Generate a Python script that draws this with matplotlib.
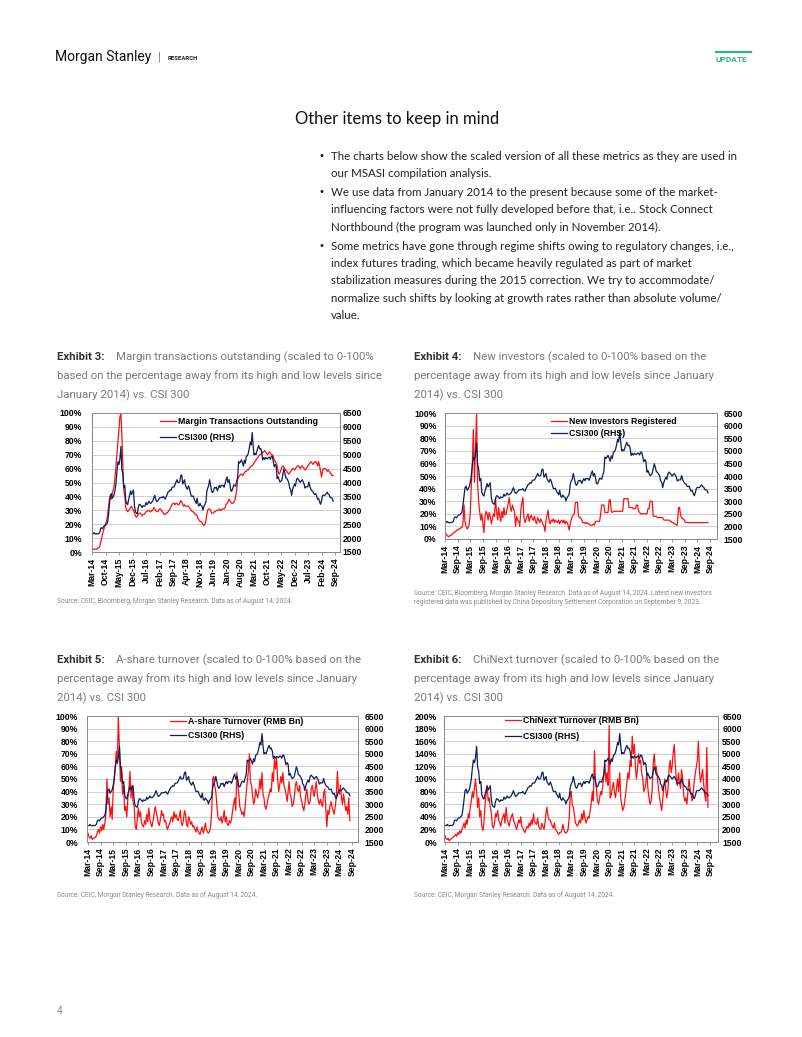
import numpy as np
import pandas as pd
import matplotlib
matplotlib.use("Agg")
import matplotlib.pyplot as plt
import matplotlib.dates as mdates
from matplotlib.lines import Line2D
from matplotlib.ticker import FuncFormatter

# --- Data: two readings per month (1st / 15th), Mar-2014 .. Aug-2024 ---
START = "2014-03-01"

CSI300 = [
    2150, 2146, 2200, 2158, 2140, 2160, 2150, 2165, 2200, 2352, 2370, 2338, 2420, 2450, 2460, 2508, 2560, 2808, 3200, 3533,
    3600, 3434, 3500, 3572, 3750, 3978, 4450, 4750, 4650, 4841, 5300, 4473, 4300, 3816, 3900, 3366, 3250, 3203, 3400, 3534, 3700, 3566, 3650, 3731,
    3150, 2946, 2900, 2877, 3100, 3218, 3200, 3156, 3100, 3169, 3150, 3154, 3280, 3203, 3250, 3327, 3260, 3253, 3300, 3336, 3450, 3538, 3400, 3310,
    3330, 3387, 3450, 3452, 3460, 3456, 3500, 3439, 3400, 3492, 3580, 3666, 3680, 3737, 3720, 3822, 3840, 3837, 3920, 4006, 4100, 4006, 4000, 4030,
    4250, 4275, 3950, 4023, 4100, 3898, 3800, 3756, 3880, 3802, 3650, 3510, 3500, 3517, 3400, 3335, 3250, 3438, 3200, 3153, 3250, 3173, 3150, 3010,
    3150, 3201, 3300, 3669, 3800, 3872, 4100, 3913, 3700, 3630, 3700, 3825, 3800, 3835, 3700, 3799, 3900, 3814, 3900, 3886, 3900, 3828, 3950, 4096,
    4200, 4003, 4100, 3940, 3700, 3686, 3800, 3912, 3900, 3867, 4050, 4163, 4750, 4695, 4750, 4817, 4700, 4587, 4800, 4695, 4950, 4960, 5050, 5211,
    5450, 5351, 5800, 5336, 5000, 5048, 5000, 5123, 5250, 5331, 5200, 5224, 5100, 4811, 4900, 4827, 4900, 4866, 4850, 4908, 4900, 4832, 4950, 4940,
    4750, 4564, 4650, 4581, 4150, 4222, 4100, 4016, 4050, 4091, 4300, 4485, 4350, 4170, 4150, 4079, 4000, 3804, 3750, 3539, 3750, 3854, 3950, 3872,
    4100, 4157, 4100, 4061, 4000, 4051, 4100, 4029, 3950, 3798, 3850, 3842, 3850, 4020, 3850, 3765, 3700, 3690, 3600, 3573, 3600, 3496, 3400, 3431,
    3300, 3215, 3350, 3516, 3550, 3537, 3550, 3604, 3650, 3579, 3550, 3462, 3450, 3442, 3330,
]

margin = [
    2, 2, 2, 2, 2, 2, 3, 3, 4, 7, 10, 13, 16, 18, 20, 22, 26, 32, 38, 40,
    38, 42, 45, 48, 55, 62, 72, 80, 88, 97, 100, 85, 62, 45, 40, 32, 30, 29, 30, 31, 32, 33, 31, 30,
    28, 26, 25, 26, 27, 28, 28, 27, 26, 27, 27, 28, 29, 29, 30, 30, 29, 29, 30, 30, 32, 31, 30, 29,
    29, 30, 31, 31, 30, 29, 28, 27, 27, 28, 28, 29, 30, 31, 33, 34, 35, 35, 34, 35, 35, 34, 34, 35,
    37, 36, 34, 33, 34, 33, 33, 33, 33, 32, 31, 30, 29, 29, 28, 27, 27, 26, 24, 23, 22, 22, 21, 20,
    19, 20, 22, 27, 30, 31, 31, 30, 28, 28, 28, 29, 29, 30, 30, 30, 31, 30, 30, 31, 31, 31, 32, 34,
    35, 36, 38, 37, 36, 35, 35, 36, 37, 40, 45, 52, 54, 55, 56, 56, 55, 56, 57, 58, 58, 59, 59, 60,
    61, 62, 62, 63, 64, 65, 66, 67, 68, 69, 70, 70, 71, 72, 72, 73, 72, 71, 70, 71, 72, 71, 70, 70,
    69, 66, 65, 64, 62, 58, 56, 57, 59, 61, 62, 61, 60, 59, 58, 57, 56, 57, 58, 59, 60, 60, 59, 60,
    61, 62, 62, 61, 60, 61, 62, 61, 60, 59, 60, 61, 62, 63, 64, 65, 64, 63, 64, 65, 65, 64, 62, 65,
    62, 58, 54, 58, 60, 60, 60, 59, 58, 59, 58, 57, 56, 55, 55,
]

new_investors = [
    6, 4, 3, 2, 2, 3, 3, 4, 5, 5, 6, 7, 7, 8, 8, 9, 9, 12, 27, 14,
    10, 8, 9, 12, 20, 40, 60, 87, 45, 70, 100, 45, 30, 22, 15, 20, 12, 5, 18, 22, 20, 15, 21, 18,
    12, 16, 20, 18, 32, 22, 15, 25, 18, 14, 22, 17, 25, 19, 20, 24, 28, 33, 25, 22, 27, 24, 22, 10,
    18, 15, 14, 10, 22, 28, 33, 18, 13, 15, 18, 20, 14, 17, 19, 16, 15, 18, 14, 12, 17, 15, 13, 16,
    14, 12, 10, 6, 15, 18, 23, 14, 12, 15, 14, 16, 13, 15, 14, 13, 15, 12, 14, 15, 13, 15, 12, 14,
    13, 11, 7, 12, 15, 18, 19, 20, 29, 29, 29, 18, 17, 17, 15, 13, 13, 13, 12, 13, 12, 12, 11, 11,
    11, 12, 11, 14, 14, 14, 14, 14, 20, 27, 27, 27, 21, 21, 21, 21, 31, 31, 22, 21, 22, 22, 22, 22,
    22, 22, 22, 22, 22, 22, 32, 32, 32, 32, 32, 25, 25, 25, 25, 24, 24, 24, 27, 27, 22, 21, 20, 20,
    20, 20, 20, 20, 20, 24, 24, 30, 30, 30, 18, 18, 18, 18, 17, 17, 17, 17, 17, 17, 15, 15, 15, 15,
    15, 15, 14, 14, 13, 13, 12, 12, 11, 11, 25, 25, 19, 17, 16, 16, 14, 13, 13, 13, 13, 13, 13, 13,
    13, 13, 13, 13, 13, 13, 13, 13, 13, 13, 13, 13, 13, 13, 13,
]

ashare_turnover = [
    7, 4, 3, 5, 2, 3, 3, 4, 5, 8, 10, 7, 12, 9, 14, 10, 15, 22, 50, 30,
    35, 20, 28, 18, 40, 50, 60, 72, 62, 100, 70, 48, 60, 38, 45, 25, 28, 20, 35, 42, 56, 35, 45, 32,
    28, 12, 10, 18, 27, 20, 24, 15, 13, 12, 17, 14, 22, 16, 27, 18, 14, 12, 17, 22, 28, 24, 20, 15,
    13, 18, 25, 21, 22, 16, 17, 12, 10, 13, 15, 18, 20, 16, 24, 19, 22, 18, 17, 20, 25, 15, 13, 17,
    25, 22, 14, 12, 20, 18, 14, 16, 12, 13, 10, 8, 12, 9, 7, 6, 10, 12, 7, 10, 15, 10, 8, 7,
    9, 12, 25, 50, 52, 45, 40, 30, 20, 18, 17, 20, 15, 18, 25, 16, 20, 14, 13, 17, 15, 18, 25, 30,
    35, 25, 55, 45, 38, 28, 25, 22, 24, 20, 28, 38, 48, 55, 70, 48, 45, 38, 30, 32, 42, 38, 35, 40,
    50, 42, 55, 38, 35, 28, 26, 30, 35, 38, 42, 40, 55, 48, 66, 58, 67, 50, 40, 45, 52, 47, 55, 45,
    42, 38, 32, 40, 48, 38, 35, 28, 30, 35, 45, 48, 42, 40, 45, 36, 32, 28, 25, 30, 38, 42, 33, 30,
    32, 42, 45, 40, 36, 42, 48, 38, 33, 30, 34, 30, 28, 38, 42, 28, 12, 25, 22, 28, 32, 28, 25, 22,
    28, 35, 56, 42, 38, 45, 35, 30, 38, 32, 25, 28, 22, 35, 17,
]

chinext_turnover = [
    10, 5, 4, 6, 2, 4, 5, 6, 8, 10, 12, 9, 15, 12, 18, 14, 20, 25, 30, 22,
    35, 28, 45, 38, 55, 65, 80, 70, 85, 100, 80, 55, 70, 40, 50, 25, 18, 30, 60, 75, 90, 65, 70, 55,
    45, 25, 22, 30, 45, 40, 50, 35, 30, 25, 35, 40, 45, 30, 55, 38, 30, 25, 35, 40, 45, 35, 30, 25,
    20, 28, 35, 30, 40, 25, 22, 18, 15, 20, 25, 22, 30, 25, 35, 28, 45, 32, 30, 28, 38, 25, 22, 20,
    30, 25, 20, 30, 45, 55, 40, 35, 35, 30, 25, 22, 30, 20, 18, 15, 12, 15, 15, 18, 28, 20, 15, 14,
    16, 20, 40, 75, 80, 60, 55, 45, 30, 28, 25, 30, 35, 30, 45, 35, 50, 38, 30, 35, 40, 38, 50, 60,
    80, 65, 145, 95, 85, 65, 60, 70, 80, 75, 90, 105, 125, 95, 110, 90, 185, 70, 75, 85, 95, 80, 70, 85,
    100, 80, 110, 70, 60, 50, 55, 65, 80, 95, 110, 100, 130, 120, 168, 140, 155, 120, 100, 115, 140, 125, 130, 110,
    100, 80, 85, 95, 110, 85, 70, 60, 65, 80, 125, 140, 115, 120, 100, 85, 70, 60, 50, 65, 90, 100, 80, 70,
    85, 115, 130, 110, 120, 140, 155, 125, 100, 90, 110, 95, 85, 115, 100, 75, 65, 70, 60, 80, 100, 85, 75, 65,
    80, 95, 110, 120, 130, 160, 110, 95, 105, 115, 90, 75, 65, 150, 55,
]

bullets = [
    ["The charts below show the scaled version of all these metrics as they are used in",
     "our MSASI compilation analysis."],
    ["We use data from January 2014 to the present because some of the market-",
     "influencing factors were not fully developed before that, i.e.. Stock Connect",
     "Northbound (the program was launched only in November 2014)."],
    ["Some metrics have gone through regime shifts owing to regulatory changes, i.e.,",
     "index futures trading, which became heavily regulated as part of market",
     "stabilization measures during the 2015 correction. We try to accommodate/",
     "normalize such shifts by looking at growth rates rather than absolute volume/",
     "value."],
]

# --- page ---
W, H = 802, 1037
fig = plt.figure(figsize=(W / 100, H / 100), dpi=100)
fig.patch.set_facecolor("white")

RED = "#ff1010"
NAVY = "#0f1d5a"
GRID = "#c9c9c9"
EDGE = "#8a8a8a"
TICKFONT = dict(family="Liberation Sans", weight="bold", size=6.2)


def ptext(x, y, s, **kw):
    kw.setdefault("va", "center")
    fig.text(x / W, 1 - y / H, s, **kw)


def px_axes(x0, y0, x1, y1):
    return fig.add_axes([x0 / W, 1 - y1 / H, (x1 - x0) / W, (y1 - y0) / H])


def month_date(m):
    return pd.Timestamp(START) + pd.Timedelta(days=m * 30.44)


def chart(box, series, label, ytop, ystep, step, xl, leg, lpad, rpad):
    ax = px_axes(*box)
    d = pd.date_range(START, periods=len(series), freq="SMS")
    ax.plot(d, np.array(series) / 100.0, color=RED, lw=0.9, label=label)
    ax2 = ax.twinx()
    dc = pd.date_range(START, periods=len(CSI300), freq="SMS")
    ax2.plot(dc, CSI300, color=NAVY, lw=0.9, label="CSI300 (RHS)")

    ax.set_ylim(0, ytop)
    ax.set_yticks(np.arange(0, ytop + 1e-9, ystep))
    ax.yaxis.set_major_formatter(FuncFormatter(lambda v, p: f"{v * 100:.0f}%"))
    ax2.set_ylim(1500, 6500)
    ax2.set_yticks(range(1500, 6501, 500))

    ticks = pd.date_range(START, "2024-09-01", freq=f"{step}MS")
    ax.set_xticks(ticks)
    ax.xaxis.set_major_formatter(mdates.DateFormatter("%b-%y"))
    ax.set_xlim(month_date(xl[0]), month_date(xl[1]))

    ax.yaxis.grid(True, color=GRID, lw=0.6)
    ax.set_axisbelow(True)
    ax.tick_params(axis="x", rotation=90, length=2.5, width=0.6, color=EDGE, pad=1.5)
    ax.tick_params(axis="y", length=0, pad=lpad)
    ax2.tick_params(axis="y", length=0, pad=rpad)
    for a in (ax, ax2):
        for s in a.spines.values():
            s.set_color(EDGE)
            s.set_linewidth(0.7)
        for t in a.get_xticklabels() + a.get_yticklabels():
            t.set_fontproperties(TICKFONT)
            t.set_color("black")

    hs = ax.get_lines() + ax2.get_lines()
    ax2.legend(hs, [h.get_label() for h in hs], loc="upper left",
               bbox_to_anchor=(leg[0] / W, 1 - leg[1] / H), bbox_transform=fig.transFigure,
               frameon=False, prop=dict(family="Liberation Sans", weight="bold", size=6.3),
               handlelength=1.8, handletextpad=0.3, labelspacing=leg[2],
               borderpad=0, borderaxespad=0)
    return ax


# header
ptext(55, 57, "Morgan Stanley", family="Roboto", size=10, color="#111111")
ptext(158, 57, "|", family="DejaVu Sans", size=7, color="#666666")
ptext(168, 58, "RESEARCH", family="Roboto", weight="bold", size=4.3, color="#222222")
fig.add_artist(Line2D([716 / W, 751 / W], [1 - 52 / H, 1 - 52 / H], color="#33b27f", lw=1.6))
ptext(716, 59, "UPDATE", family="Roboto", weight="bold", size=6, color="#33b27f")

ptext(295, 119, "Other items to keep in mind", family="Lato", size=12, color="#111111")

y = 156
for para in bullets:
    ptext(319, y, "\u2022", family="DejaVu Sans", size=7.5, color="#222222")
    for line in para:
        ptext(331, y, line, family="Lato", size=8.3, color="#222222")
        y += 17.4
    y += 1.5

# exhibit titles
titles = [
    (57, 357, "Exhibit 3:", "Margin transactions outstanding (scaled to 0-100%",
     ["based on the percentage away from its high and low levels since", "January 2014) vs. CSI 300"]),
    (414, 357, "Exhibit 4:", "New investors (scaled to 0-100% based on the",
     ["percentage away from its high and low levels since January", "2014) vs. CSI 300"]),
    (57, 660, "Exhibit 5:", "A-share turnover (scaled to 0-100% based on the",
     ["percentage away from its high and low levels since January", "2014) vs. CSI 300"]),
    (414, 660, "Exhibit 6:", "ChiNext turnover (scaled to 0-100% based on the",
     ["percentage away from its high and low levels since January", "2014) vs. CSI 300"]),
]
for x0, y0, ex, first, rest in titles:
    ptext(x0, y0, ex, family="Roboto", weight="bold", size=8.2, color="#333333")
    ptext(x0 + 59, y0, first, family="Roboto", size=8.2, color="#7a7a7a")
    for k, line in enumerate(rest):
        ptext(x0, y0 + 19 * (k + 1), line, family="Roboto", size=8.2, color="#7a7a7a")

# charts
chart((92, 413, 340, 552), margin, "Margin Transactions Outstanding", 1.0, 0.1, 7,
      (0, 128.6), (160, 417, 0.75), 7, 2)
chart((445, 413, 717, 539), new_investors, "New Investors Registered", 1.0, 0.1, 6,
      (0, 129.3), (551, 417, 0.35), 6, 5)
chart((87, 716, 358, 842), ashare_turnover, "A-share Turnover (RMB Bn)", 1.0, 0.1, 6,
      (-0.5, 128.9), (170, 717, 0.55), 6.5, 5)
chart((444, 716, 718, 842), chinext_turnover, "ChiNext Turnover (RMB Bn)", 2.0, 0.2, 6,
      (-0.5, 129.8), (505, 716, 0.75), 5, 3)

# sources
SRC = dict(family="Roboto", size=4.8, color="#8a8a8a")
ptext(57, 601, "Source: CEIC, Bloomberg, Morgan Stanley Research. Data as of August 14, 2024.", **SRC)
ptext(414, 593, "Source: CEIC, Bloomberg, Morgan Stanley Research. Data as of August 14, 2024. Latest new investors", **SRC)
ptext(414, 602, "registered data was published by China Depository Settlement Corporation on September 9, 2023.", **SRC)
ptext(57, 895, "Source: CEIC, Morgan Stanley Research. Data as of August 14, 2024.", **SRC)
ptext(414, 895, "Source: CEIC, Morgan Stanley Research. Data as of August 14, 2024.", **SRC)

ptext(57, 1011, "4", family="Roboto", size=7, color="#888888")

fig.savefig("out.png", dpi=100, facecolor="white")
